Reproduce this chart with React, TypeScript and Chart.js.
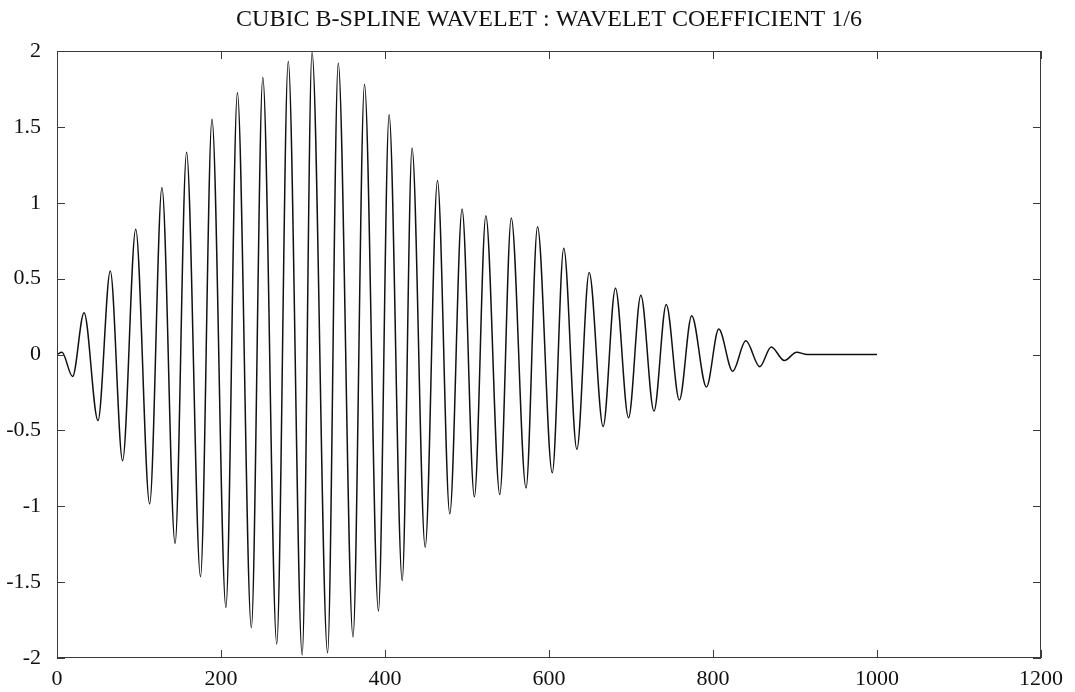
import React, { useEffect, useRef } from "react";
import { Chart, registerables } from "chart.js";

Chart.register(...registerables);

const chartTitle = "CUBIC B-SPLINE WAVELET : WAVELET COEFFICIENT 1/6";

// Extrema of the wavelet coefficient curve (sample index, value)
const sampleX = [
  0, 6, 19, 33, 50, 65, 80, 96, 113, 128,
  144, 158, 175, 189, 206, 220, 237, 251, 268, 282,
  299, 311, 330, 343, 361, 375, 392, 405, 421, 433,
  449, 464, 479, 494, 509, 523, 540, 554, 572, 586,
  604, 618, 634, 649, 666, 681, 697, 712, 728, 743,
  759, 774, 792, 807, 824, 840, 857, 871, 887, 902,
  915, 1000,
];
const coefY = [
  0, 0.015, -0.145, 0.275, -0.435, 0.55, -0.7, 0.826, -0.985, 1.1,
  -1.246, 1.333, -1.464, 1.55, -1.667, 1.725, -1.8, 1.826, -1.907, 1.93,
  -1.98, 1.99, -1.965, 1.92, -1.86, 1.78, -1.69, 1.58, -1.49, 1.36,
  -1.27, 1.146, -1.05, 0.958, -0.938, 0.915, -0.923, 0.9, -0.88, 0.842,
  -0.78, 0.7, -0.625, 0.54, -0.475, 0.437, -0.417, 0.39, -0.373, 0.33,
  -0.3, 0.255, -0.214, 0.168, -0.11, 0.09, -0.08, 0.05, -0.04, 0.015,
  0, 0,
];

const xTickValues = [0, 200, 400, 600, 800, 1000, 1200];
const yTickValues = [-2, -1.5, -1, -0.5, 0, 0.5, 1, 1.5, 2];

const W = 1075;
const H = 692;
const AREA_LEFT = 57;
const AREA_RIGHT = 1041;
const AREA_TOP = 51;
const AREA_BOTTOM = 658;
const TICK_LEN = 8;
const TITLE_SIZE = 24;
const TITLE_Y = 20;
const TICK_SIZE = 22;
const SERIF = "'Liberation Serif', 'DejaVu Serif', serif";

const framePlugin = {
  id: "matlabFrame",
  afterDatasetsDraw(chart: any) {
    const { ctx, chartArea, scales } = chart;
    const { left, right, top, bottom } = chartArea;
    ctx.save();
    ctx.strokeStyle = "#3a3a3a";
    ctx.lineWidth = 1;
    ctx.strokeRect(left + 0.5, top + 0.5, right - left - 1, bottom - top - 1);
    ctx.beginPath();
    xTickValues.forEach((v) => {
      const px = Math.round(scales.x.getPixelForValue(v)) + 0.5;
      ctx.moveTo(px, bottom);
      ctx.lineTo(px, bottom - TICK_LEN);
      ctx.moveTo(px, top);
      ctx.lineTo(px, top + TICK_LEN);
    });
    yTickValues.forEach((v) => {
      const py = Math.round(scales.y.getPixelForValue(v)) + 0.5;
      ctx.moveTo(left, py);
      ctx.lineTo(left + TICK_LEN, py);
      ctx.moveTo(right, py);
      ctx.lineTo(right - TICK_LEN, py);
    });
    ctx.stroke();
    // Title centred over the axes, as MATLAB places it
    ctx.fillStyle = "#111111";
    ctx.font = `${TITLE_SIZE}px ${SERIF}`;
    ctx.textAlign = "center";
    ctx.textBaseline = "middle";
    ctx.fillText(chartTitle, (left + right) / 2, TITLE_Y);
    ctx.restore();
  },
};

export default function App() {
  const canvasRef = useRef<HTMLCanvasElement | null>(null);

  useEffect(() => {
    document.body.style.margin = "0";
    const canvas = canvasRef.current;
    if (!canvas) return;
    const points = sampleX.map((x, i) => ({ x, y: coefY[i] }));
    const tickFont = { family: SERIF, size: TICK_SIZE };
    const chart = new Chart(canvas, {
      type: "line",
      data: {
        datasets: [
          {
            data: points,
            borderColor: "#111111",
            borderWidth: 1.5,
            pointRadius: 0,
            fill: false,
            cubicInterpolationMode: "monotone",
          },
        ],
      },
      options: {
        animation: false,
        responsive: false,
        maintainAspectRatio: false,
        layout: { padding: { left: 0, right: W - AREA_RIGHT, top: AREA_TOP, bottom: 0 } },
        plugins: {
          legend: { display: false },
          tooltip: { enabled: false },
          title: { display: false },
        },
        scales: {
          x: {
            type: "linear",
            min: 0,
            max: 1200,
            afterBuildTicks: (s: any) => {
              s.ticks = xTickValues.map((v) => ({ value: v }));
            },
            ticks: {
              color: "#111111",
              font: tickFont,
              padding: 0,
              maxRotation: 0,
              autoSkip: false,
              callback: (v: any) => String(v),
            },
            grid: { display: false },
            border: { display: false },
            afterFit: (s: any) => {
              s.height = H - AREA_BOTTOM;
            },
          },
          y: {
            type: "linear",
            min: -2,
            max: 2,
            afterBuildTicks: (s: any) => {
              s.ticks = yTickValues.map((v) => ({ value: v }));
            },
            ticks: {
              color: "#111111",
              font: tickFont,
              padding: 8,
              autoSkip: false,
              callback: (v: any) => String(v),
            },
            grid: { display: false },
            border: { display: false },
            afterFit: (s: any) => {
              s.width = AREA_LEFT;
            },
          },
        },
      },
      plugins: [framePlugin],
    } as any);
    return () => chart.destroy();
  }, []);

  return (
    <div style={{ position: "absolute", left: 0, top: 0, width: W, height: H, background: "#ffffff" }}>
      <canvas ref={canvasRef} width={W} height={H} style={{ width: W, height: H, display: "block" }} />
    </div>
  );
}
